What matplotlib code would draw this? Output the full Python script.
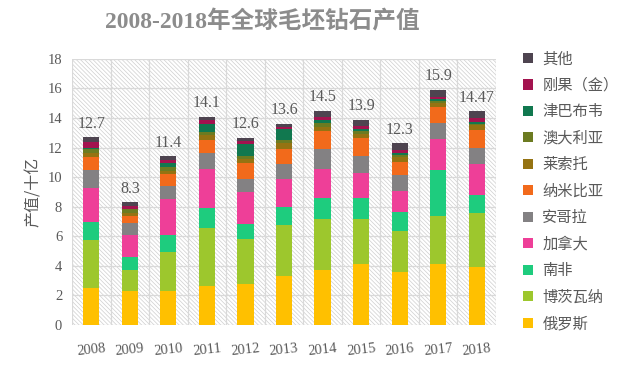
"""
2008-2018 global rough diamond production value, stacked bars
"""

import matplotlib
matplotlib.use('Agg')
import matplotlib.pyplot as plt
import numpy as np
from matplotlib.patches import Rectangle

years = ['2008', '2009', '2010', '2011', '2012', '2013', '2014', '2015', '2016', '2017', '2018']
totals = ['12.7', '8.3', '11.4', '14.1', '12.6', '13.6', '14.5', '13.9', '12.3', '15.9', '14.47']

# values in billion USD, bottom to top
russia = [2.48, 2.30, 2.30, 2.62, 2.80, 3.30, 3.70, 4.10, 3.56, 4.10, 3.90]
botswana = [3.27, 1.42, 2.66, 3.96, 3.03, 3.47, 3.50, 3.07, 2.82, 3.27, 3.66]
south_africa = [1.24, 0.90, 1.13, 1.32, 1.03, 1.19, 1.37, 1.40, 1.29, 3.12, 1.24]
canada = [2.30, 1.47, 2.41, 2.63, 2.14, 1.89, 1.95, 1.69, 1.42, 2.10, 2.10]
angola = [1.17, 0.84, 0.90, 1.13, 0.91, 1.04, 1.38, 1.17, 1.06, 1.07, 1.05]
namibia = [0.90, 0.42, 0.80, 0.86, 1.08, 0.99, 1.20, 1.20, 0.90, 1.08, 1.25]
lesotho = [0.25, 0.22, 0.25, 0.34, 0.25, 0.40, 0.30, 0.30, 0.30, 0.30, 0.30]
australia = [0.30, 0.25, 0.25, 0.22, 0.20, 0.25, 0.25, 0.20, 0.15, 0.12, 0.12]
zimbabwe = [0.05, 0.03, 0.25, 0.52, 0.79, 0.70, 0.25, 0.15, 0.15, 0.10, 0.12]
congo = [0.40, 0.20, 0.20, 0.27, 0.20, 0.14, 0.20, 0.20, 0.20, 0.15, 0.24]
other = [0.34, 0.25, 0.25, 0.23, 0.22, 0.23, 0.40, 0.42, 0.45, 0.49, 0.49]

series = [russia, botswana, south_africa, canada, angola, namibia,
          lesotho, australia, zimbabwe, congo, other]
names = ['俄罗斯', '博茨瓦纳', '南非', '加拿大', '安哥拉', '纳米比亚',
         '莱索托', '澳大利亚', '津巴布韦', '刚果（金）', '其他']
colors = ['#FFC000', '#9DC72D', '#1ECC7E', '#EE3F98', '#838183', '#F26A1B',
          '#957312', '#6C7B21', '#11784F', '#A3134F', '#4E4450']

grey = '#595959'
cjk = ['Noto Sans CJK SC', 'DejaVu Sans']
serif = ['Liberation Serif', 'Noto Sans CJK SC']

fig = plt.figure(figsize=(6.33, 3.66), dpi=100)
ax = fig.add_axes([0.1137, 0.112, 0.6699, 0.727])

x = np.arange(len(years))
ax.set_xlim(-0.5, len(years) - 0.5)
ax.set_ylim(0, 18)

# hatched background
plt.rcParams['hatch.linewidth'] = 0.5
bg = Rectangle((0, 0), 1, 1, transform=ax.transAxes, facecolor='white',
               edgecolor='#cfcfcf', hatch='\\' * 8, linewidth=0, zorder=0)
ax.add_patch(bg)

# grid
ax.set_yticks(np.arange(0, 19, 2))
ax.set_xticks(x)
for yv in np.arange(0, 19, 2):
    ax.axhline(yv, color='#d9d9d9', lw=0.9, zorder=1)
for xv in np.arange(-0.5, len(years), 1.0):
    ax.axvline(xv, color='#d9d9d9', lw=0.9, zorder=1)

bottom = np.zeros(len(years))
bars = []
for vals, name, c in zip(series, names, colors):
    b = ax.bar(x, vals, width=0.42, bottom=bottom, color=c, label=name,
               zorder=3, linewidth=0)
    bars.append(b)
    bottom += np.array(vals)

for xi, top, lab in zip(x, bottom, totals):
    ax.annotate(lab, (xi, top), xytext=(0, 4), textcoords='offset points',
                ha='center', va='bottom', fontsize=11.5, color=grey,
                family=serif)

for s in ax.spines.values():
    s.set_visible(False)
ax.tick_params(axis='y', length=0, pad=7)
ax.tick_params(axis='x', length=0, pad=12)
ax.set_yticklabels([str(v) for v in range(0, 19, 2)], fontsize=10.5, color=grey,
                   family=serif)
ax.set_xticklabels(years, fontsize=10.5, color=grey, family=serif, rotation=6)

ax.set_ylabel('产值/十亿', fontsize=11.5, color=grey, family=cjk, labelpad=4)

fig.text(0.414, 0.94, '2008-2018年全球毛坯钻石产值', ha='center', va='center',
         fontsize=17, color='#8c8c8c', fontweight='bold', family=serif)

leg = fig.legend(bars[::-1], names[::-1], loc='upper left',
                 bbox_to_anchor=(0.805, 0.9), frameon=False,
                 handlelength=0.65, handleheight=0.65, handletextpad=0.6,
                 labelspacing=0.62, prop={'family': cjk, 'size': 11})
for t in leg.get_texts():
    t.set_color(grey)

plt.savefig('out.png', dpi=100)
plt.close(fig)
